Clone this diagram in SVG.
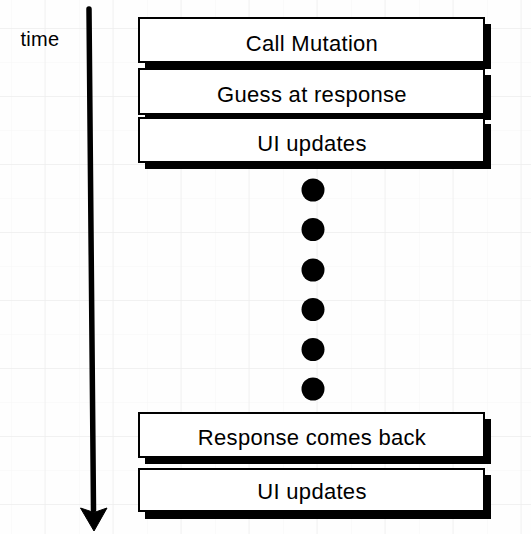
<svg xmlns="http://www.w3.org/2000/svg" width="531" height="534" viewBox="0 0 531 534">
  <defs>
    <pattern id="minor" x="11" y="-6" width="34" height="34" patternUnits="userSpaceOnUse">
      <path d="M0 0H34M0 0V34" fill="none" stroke="#f6f6f6" stroke-width="1.2"/>
    </pattern>
    <pattern id="major" x="44.5" y="28" width="68" height="68" patternUnits="userSpaceOnUse">
      <path d="M0 0H68M0 0V68" fill="none" stroke="#eeeeee" stroke-width="1.4"/>
    </pattern>
  </defs>
  <style>
    .shadow { fill: #000; }
    .box { fill: #fff; stroke: #000; stroke-width: 2; }
    .label { font-family: "Liberation Sans", Arial, sans-serif; font-size: 22px; letter-spacing: 0.3px; fill: #000; text-anchor: middle; }
    .dot { fill: #000; }
  </style>
  <rect width="531" height="534" fill="#fefefe"/>
  <rect width="531" height="534" fill="url(#minor)"/>
  <rect width="531" height="534" fill="url(#major)"/>

  <g id="time-label">
    <text x="40" y="46" class="label" style="font-size:20px">time</text>
  </g>

  <g id="connectors">
    <line x1="89" y1="9" x2="93.5" y2="510" stroke="#000" stroke-width="5.5" stroke-linecap="round"/>
    <polygon points="80.5,508 94,512.5 107,508 94,531" fill="#000" stroke="#000" stroke-width="1" stroke-linejoin="round"/>
  </g>

  <g id="node-call-mutation">
    <rect class="shadow" x="145" y="24" width="346" height="45"/>
    <rect class="box" x="139" y="18" width="345" height="44"/>
    <text class="label" x="312" y="51">Call Mutation</text>
  </g>
  <g id="node-guess">
    <rect class="shadow" x="145" y="75" width="346" height="45"/>
    <rect class="box" x="139" y="69" width="345" height="45"/>
    <text class="label" x="312" y="101.5">Guess at response</text>
  </g>
  <g id="node-ui-updates-1">
    <rect class="shadow" x="145" y="124" width="346" height="45"/>
    <rect class="box" x="139" y="118" width="345" height="44"/>
    <text class="label" x="312" y="151">UI updates</text>
  </g>

  <g id="dots">
    <circle class="dot" cx="313" cy="190" r="11.5"/>
    <circle class="dot" cx="313" cy="229.5" r="11.5"/>
    <circle class="dot" cx="313" cy="270" r="11.5"/>
    <circle class="dot" cx="313" cy="309.5" r="11.5"/>
    <circle class="dot" cx="313" cy="349.5" r="11.5"/>
    <circle class="dot" cx="313" cy="389" r="11.5"/>
  </g>

  <g id="node-response">
    <rect class="shadow" x="145" y="419" width="346" height="45"/>
    <rect class="box" x="139" y="413" width="345" height="44"/>
    <text class="label" x="312" y="445">Response comes back</text>
  </g>
  <g id="node-ui-updates-2">
    <rect class="shadow" x="145" y="475" width="346" height="44"/>
    <rect class="box" x="139" y="469" width="345" height="42"/>
    <text class="label" x="312" y="498.5">UI updates</text>
  </g>
</svg>
